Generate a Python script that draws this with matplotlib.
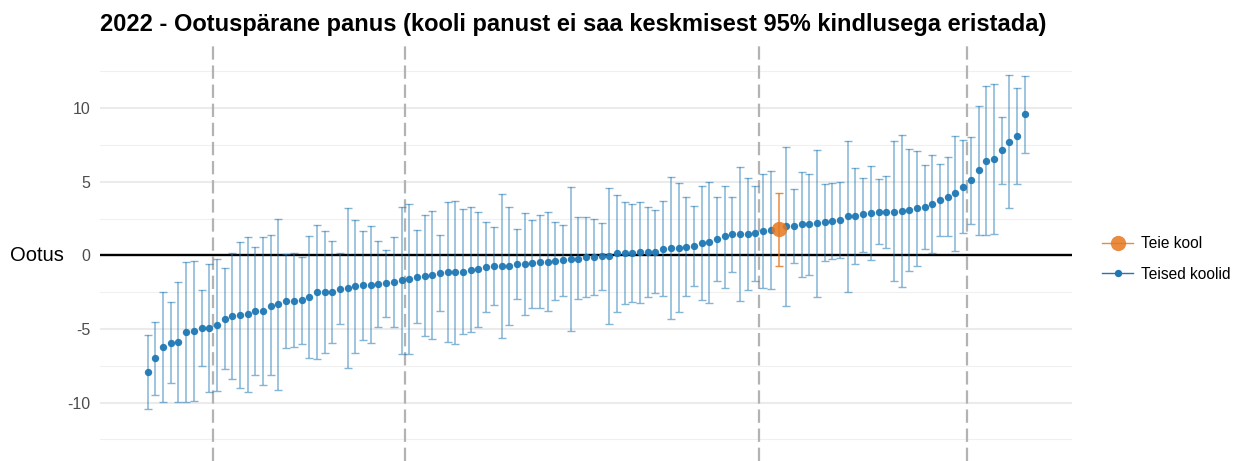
import numpy as np
import matplotlib
matplotlib.use("Agg")
import matplotlib.pyplot as plt
from matplotlib.lines import Line2D
from matplotlib import transforms

# Estimated contribution per school (sorted), with 95% interval bounds
estimate = [-7.95, -7.0, -6.21, -5.96, -5.89, -5.21, -5.12, -4.96, -4.94, -4.71,
            -4.31, -4.15, -4.06, -3.99, -3.78, -3.78, -3.42, -3.33, -3.13, -3.08,
            -3.05, -2.83, -2.52, -2.49, -2.47, -2.27, -2.20, -2.08, -2.04, -1.99,
            -1.95, -1.90, -1.79, -1.68, -1.59, -1.47, -1.38, -1.31, -1.18, -1.16,
            -1.13, -1.11, -0.97, -0.95, -0.82, -0.75, -0.75, -0.75, -0.61, -0.61,
            -0.52, -0.43, -0.43, -0.39, -0.34, -0.25, -0.25, -0.14, -0.14, -0.07,
            -0.05, 0.14, 0.18, 0.18, 0.23, 0.23, 0.25, 0.45, 0.48, 0.52,
            0.59, 0.63, 0.86, 0.88, 1.11, 1.29, 1.43, 1.45, 1.45, 1.50,
            1.68, 1.72, 1.77, 1.97, 2.02, 2.11, 2.13, 2.20, 2.27, 2.36,
            2.42, 2.65, 2.67, 2.79, 2.88, 2.95, 2.97, 2.97, 2.99, 3.08,
            3.20, 3.31, 3.49, 3.78, 3.99, 4.21, 4.67, 5.10, 5.78, 6.44,
            6.55, 7.14, 7.73, 8.09, 9.61]

upper = [-5.44, -4.51, -2.52, -3.20, -1.84, -0.45, -0.39, -2.38, -0.61, -0.23,
         -0.88, 0.14, 0.93, 1.27, 0.59, 1.22, 1.36, 2.49, 0.07, 0.14,
         -0.09, 1.29, 2.04, 1.68, 0.97, 0.14, 3.24, 2.42, 1.65, 2.02,
         0.97, 0.39, 1.22, 3.31, 3.51, 1.70, 2.76, 3.04, 1.40, 3.60,
         3.72, 3.13, 3.26, 2.92, 2.24, 1.90, 4.15, 3.26, 1.77, 2.86,
         2.40, 2.72, 2.92, 2.29, 2.08, 4.62, 2.58, 2.63, 2.47, 2.22,
         4.60, 4.12, 3.65, 3.51, 3.65, 3.31, 3.06, 3.69, 5.35, 4.94,
         3.99, 3.38, 4.74, 5.01, 3.97, 4.74, 3.97, 5.98, 5.28, 4.71,
         5.51, 5.73, 4.21, 7.36, 4.53, 5.67, 5.55, 7.18, 4.87, 4.94,
         4.99, 7.77, 5.96, 5.28, 6.07, 5.17, 5.42, 7.75, 8.16, 7.23,
         7.09, 6.16, 6.82, 6.23, 6.71, 8.14, 7.82, 8.07, 10.17, 11.51,
         11.67, 9.43, 12.28, 11.40, 12.21]

lower = [-10.45, -9.49, -9.93, -8.68, -9.95, -9.95, -9.88, -7.52, -9.29, -9.20,
         -7.75, -8.43, -9.04, -9.27, -8.16, -8.79, -8.16, -9.18, -6.30, -6.25,
         -6.05, -6.96, -7.05, -6.66, -5.94, -4.67, -7.66, -6.64, -5.78, -5.98,
         -4.89, -4.21, -4.85, -6.68, -6.73, -4.62, -5.51, -5.67, -3.78, -5.89,
         -6.03, -5.35, -5.21, -4.85, -3.87, -3.40, -5.60, -4.74, -2.99, -4.08,
         -3.58, -3.60, -3.78, -3.06, -2.76, -5.12, -2.99, -2.86, -2.72, -2.33,
         -4.69, -3.87, -3.31, -3.20, -3.24, -2.86, -2.58, -2.74, -4.35, -3.85,
         -2.79, -2.11, -3.01, -3.22, -1.74, -2.20, -1.16, -3.10, -2.36, -1.72,
         -2.20, -2.31, -0.73, -3.47, -0.50, -1.45, -1.36, -2.86, -0.39, -0.25,
         -0.16, -2.47, -0.61, 0.25, -0.34, 0.75, 0.50, -1.77, -2.18, -1.07,
         -0.70, 0.43, 0.16, 1.34, 1.29, 0.29, 1.50, 2.11, 1.40, 1.40,
         1.43, 4.83, 3.22, 4.83, 6.98]

own_school = 82            # index of "Teie kool"
group_breaks = [9.5, 34.5, 80.5, 107.5]
y_ticks = [-10, -5, 0, 5, 10]
y_minor = [-12.5, -7.5, -2.5, 2.5, 7.5, 12.5]

BLUE = "#1f78b4"
ORANGE = "#e6781e"
TITLE = "2022 - Ootuspärane panus (kooli panust ei saa keskmisest 95% kindlusega eristada)"


def main():
    plt.rcParams['font.family'] = ['Liberation Sans', 'DejaVu Sans']
    plt.rcParams['axes.unicode_minus'] = False

    est = np.array(estimate)
    lo = np.array(lower)
    hi = np.array(upper)
    x = np.arange(1, len(est) + 1)
    others = np.arange(len(est)) != own_school

    fig = plt.figure(figsize=(12.46, 4.61), dpi=100)
    ax = fig.add_axes([100 / 1246, 0.0, 972 / 1246, 416 / 461])

    # grid
    for v in y_ticks:
        ax.axhline(v, color="#ebebeb", lw=1.5, zorder=0)
    for v in y_minor:
        ax.axhline(v, color="#f0f0f0", lw=0.8, zorder=0)
    for b in group_breaks:
        ax.axvline(b, color="#b3b3b3", lw=1.6, dashes=(6, 2.6), zorder=1)
    ax.axhline(0, color="black", lw=1.7, zorder=2)

    # other schools
    ax.errorbar(x[others], est[others],
                yerr=[est[others] - lo[others], hi[others] - est[others]],
                fmt="none", ecolor=BLUE, elinewidth=1.1, capsize=3.2,
                capthick=1.0, alpha=0.55, zorder=3)
    ax.plot(x[others], est[others], "o", color=BLUE, ms=5.3, alpha=0.95,
            mec="none", zorder=4)

    # own school
    i = own_school
    ax.errorbar([x[i]], [est[i]], yerr=[[est[i] - lo[i]], [hi[i] - est[i]]],
                fmt="none", ecolor=ORANGE, elinewidth=1.1, capsize=3.2,
                capthick=1.0, alpha=0.85, zorder=5)
    ax.plot([x[i]], [est[i]], "o", color=ORANGE, ms=11, alpha=0.85,
            mec="none", zorder=6)

    ax.set_xlim(-5.2, 121.15)
    ax.set_ylim(-13.97, 14.29)
    ax.set_xticks([])
    ax.set_yticks(y_ticks)
    ax.tick_params(axis="y", length=0, pad=7, labelsize=11.5, labelcolor="#4d4d4d")
    for s in ax.spines.values():
        s.set_visible(False)

    # "Ootus" label left of the zero tick
    tr = transforms.blended_transform_factory(fig.transFigure, ax.transData)
    ax.text(10 / 1246, 0, "Ootus", transform=tr, ha="left", va="center",
            fontsize=14.5, color="black")

    fig.text(100 / 1246, 1 - 24 / 461, TITLE, ha="left", va="center",
             fontsize=17, fontweight="bold")

    handles = [
        Line2D([0], [0], color=ORANGE, marker="o", ms=11, lw=1.0, alpha=0.85, mec="none"),
        Line2D([0], [0], color=BLUE, marker="o", ms=5.3, lw=1.0, mec="none"),
    ]
    fig.legend(handles, ["Teie kool", "Teised koolid"], loc="center left",
               bbox_to_anchor=(1088 / 1246, 1 - 259 / 461), frameon=False,
               fontsize=11.2, handlelength=2.0, labelspacing=1.0, handletextpad=0.5)

    fig.savefig("out.png", dpi=100)


if __name__ == "__main__":
    main()
